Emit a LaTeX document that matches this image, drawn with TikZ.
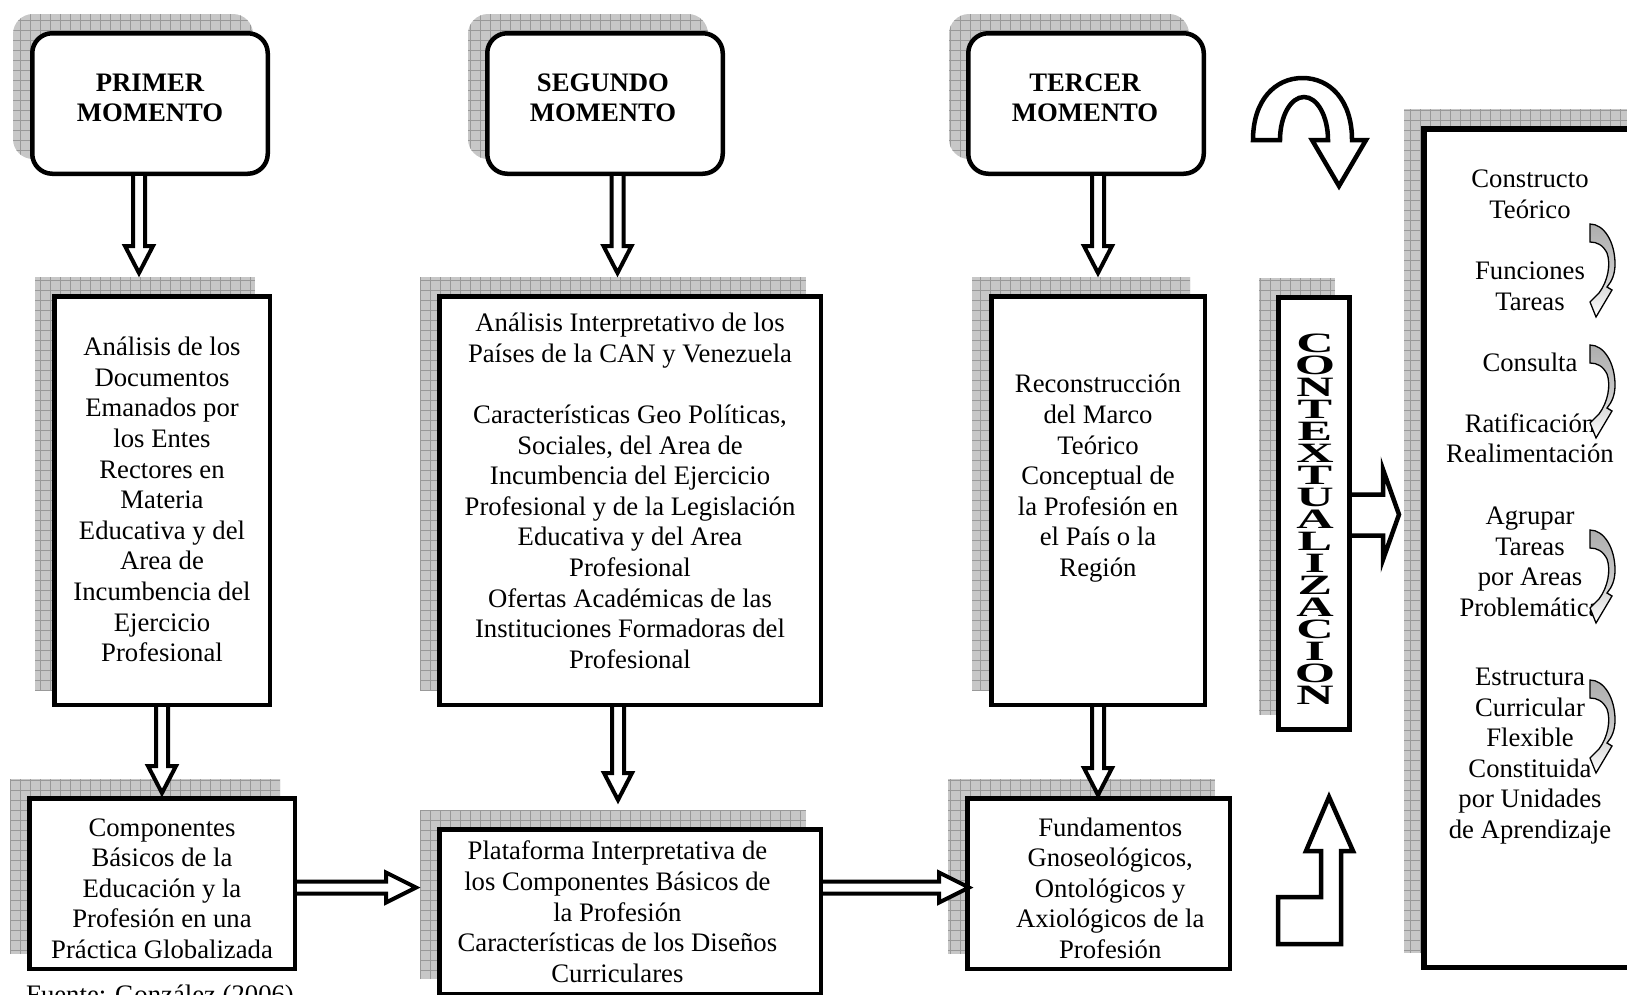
\documentclass[tikz,border=0pt]{standalone}
\usepackage{fontspec}
\usepackage{graphicx}
\setmainfont{Liberation Serif}
\usetikzlibrary{calc,backgrounds}
\newcommand\mainsz{\fontsize{26.7}{30.6}\selectfont}
\newcommand\wl[1]{\scalebox{1.85}[1]{#1}}
% vertical block arrow: #1 start (x and y), #2 tip (y only)
\newcommand\downblk[2]{%
  \draw[blk] let \p1=(#1), \p2=(#2) in
    (\x1-6pt,\y1) -- (\x1-6pt,\y2+27pt) -- (\x1-14pt,\y2+27pt) -- (\x1,\y2)
    -- (\x1+14pt,\y2+27pt) -- (\x1+6pt,\y2+27pt) -- (\x1+6pt,\y1);}
% horizontal block arrow: #1 start (x and y), #2 tip (x only)
\newcommand\rightblk[2]{%
  \draw[blk] let \p1=(#1), \p2=(#2) in
    (\x1,\y1+6pt) -- (\x2-30pt,\y1+6pt) -- (\x2-30pt,\y1+15pt) -- (\x2,\y1)
    -- (\x2-30pt,\y1-15pt) -- (\x2-30pt,\y1-6pt) -- (\x1,\y1-6pt);}
\begin{document}
\begin{tikzpicture}[x=1pt,y=-1pt,
  txt/.style={font=\mainsz, align=center, inner sep=0pt, anchor=north},
  hd/.style={txt, font=\mainsz\bfseries},
  rbox/.style={draw, line width=4.5pt, fill=white, rounded corners=20pt, inner sep=0pt},
  sbox/.style={draw, line width=4.5pt, fill=white, inner sep=0pt},
  shad/.style={fill=black!22, path picture={\draw[black!40, line width=0.6pt]
      (path picture bounding box.south west) grid[step=10pt] (path picture bounding box.north east);}},
  blk/.style={draw, line width=4pt, fill=white, line join=miter},
  bigblk/.style={draw, line width=4.5pt, fill=white, line join=miter},
  carrow/.style={draw, line width=1.3pt, top color=black!32, bottom color=white, middle color=black!22},
  ctxl/.style={font=\fontsize{28}{22}\selectfont\bfseries, inner sep=0pt, align=center},
  curv/.pic={\path[carrow] (0,0) .. controls (14,0) and (25,18) .. (25,40)
      .. controls (25,50) and (22,57) .. (17,63) -- (22,66) -- (6,93) -- (0,78) -- (9,69)
      .. controls (18,57) and (21,40) .. (17,29) .. controls (13,21) and (7,18) .. (0,18) -- cycle;}
]
\useasboundingbox (0,0) rectangle (1627,994);
\clip (0,0) rectangle (1627,994);

% ---- top rounded boxes
\node[rbox, minimum width=235.5pt, minimum height=140.5pt] (b1) at (150,103.5) {};
\node[rbox, minimum width=235.5pt, minimum height=140.5pt] (b2) at (605,103.5) {};
\node[rbox, minimum width=235.5pt, minimum height=140.5pt] (b3) at (1086,103.5) {};
\node[hd] (t1) at (150,69.4) {\strut PRIMER\\MOMENTO};
\node[hd] (t2) at (603,69.4) {\strut SEGUNDO\\MOMENTO};
\node[hd] (t3) at (1085,69.4) {\strut TERCER\\MOMENTO};

% ---- middle boxes
\node[sbox, minimum width=215.5pt, minimum height=408.5pt] (m1) at (162,500.5) {};
\node[sbox, minimum width=381.5pt, minimum height=408.5pt] (m2) at (630,500.5) {};
\node[sbox, minimum width=213.5pt, minimum height=408.5pt] (m3) at (1098,500.5) {};
\node[txt] (tm1) at (162,334) {\strut Análisis de los\\Documentos\\Emanados por\\los Entes\\Rectores en\\Materia\\Educativa y del\\Area de\\Incumbencia del\\Ejercicio\\Profesional};
\node[txt] (tm2) at (630,310.1) {\strut Análisis Interpretativo de los\\Países de la CAN y Venezuela\\\mbox{}\\Características Geo Políticas,\\Sociales, del Area de\\Incumbencia del Ejercicio\\Profesional y de la Legislación\\Educativa y del Area\\Profesional\\Ofertas Académicas de las\\Instituciones Formadoras del\\Profesional};
\node[txt] (tm3) at (1098,371.3) {\strut Reconstrucción\\del Marco\\Teórico\\Conceptual de\\la Profesión en\\el País o la\\Región};

% ---- bottom boxes
\node[sbox, minimum width=265.5pt, minimum height=170.5pt] (bo1) at (162,883.5) {};
\node[sbox, minimum width=381.5pt, minimum height=164.5pt] (bo2) at (630,911.5) {};
\node[sbox, minimum width=262.5pt, minimum height=170.5pt] (bo3) at (1098.5,883.5) {};
\node[txt] (tb1) at (162,814.4) {\strut Componentes\\Básicos de la\\Educación y la\\Profesión en una\\Práctica Globalizada};
\node[txt] (tb2) at (617.4,838.2) {\strut Plataforma Interpretativa de\\los Componentes Básicos de\\la Profesión\\Características de los Diseños\\Curriculares};
\node[txt] (tb3) at (1110.2,814.4) {\strut Fundamentos\\Gnoseológicos,\\Ontológicos y\\Axiológicos de la\\Profesión};

% ---- contextualizacion box
\node[draw, line width=5pt, fill=white, inner sep=0pt, minimum width=71pt, minimum height=432pt] (ctx) at (1314,513.5) {};
\node[ctxl] (ctxt) at (1315,519) {\wl{C}\\\wl{O}\\\wl{N}\\\wl{T}\\\wl{E}\\\wl{X}\\\wl{T}\\\wl{U}\\\wl{A}\\\wl{L}\\\wl{I}\\\wl{Z}\\\wl{A}\\\wl{C}\\\wl{I}\\\wl{O}\\\wl{N}};

% ---- big right box
\node[draw, line width=5.5pt, fill=white, inner sep=0pt, minimum width=273.5pt, minimum height=838.5pt] (big) at (1560.5,548) {};
\node[txt] (g1) at (1530,165.9) {\strut Constructo\\Teórico};
\node[txt] (g2) at (1530,258.2) {\strut Funciones\\Tareas};
\node[txt] (g3) at (1530,349.5) {\strut Consulta};
\node[txt] (g4) at (1530,410.7) {\strut Ratificación\\Realimentación};
\node[txt] (g5) at (1530,503.1) {\strut Agrupar\\Tareas\\por Areas\\Problemática};
\node[txt] (g6) at (1530,663.9) {\strut Estructura\\Curricular\\Flexible\\Constituida\\por Unidades\\de Aprendizaje};
\pic (ca1) at (1590,224) {curv};
\pic (ca2) at (1590,345) {curv};
\pic (ca3) at (1590,530) {curv};
\pic (ca4) at (1590,680) {curv};

% ---- source
\node[font=\mainsz, inner sep=0pt, anchor=base west] (src) at (26,1003.7) {Fuente: González (2006)};

% ---- connectors
\downblk{[xshift=-11pt]b1.south}{[yshift=21pt]m1.north}
\downblk{[xshift=12.5pt]b2.south}{[yshift=21pt]m2.north}
\downblk{[xshift=12pt]b3.south}{[yshift=21pt]m3.north}
\downblk{m1.south}{[yshift=3pt]bo1.north}
\downblk{[xshift=-12pt]m2.south}{[yshift=27pt]bo2.north}
\downblk{m3.south}{[yshift=1pt]bo3.north}
\rightblk{[yshift=-4pt]bo1.east}{[xshift=-21pt]bo2.west}
\rightblk{[yshift=24pt]bo2.east}{[xshift=4pt]bo3.west}
\draw[bigblk] let \p1=(ctx.east), \p2=(big.west) in
  (\x1,\y1+19pt) -- (\x2-38pt,\y1+19pt) -- (\x2-38pt,\y1+44pt) -- (\x2-22pt,\y1-1pt)
  -- (\x2-38pt,\y1-46pt) -- (\x2-38pt,\y1-22pt) -- (\x1,\y1-22pt);

% ---- free arrows
\draw[bigblk] (1253,140) .. controls (1253,100) and (1275.2,78) .. (1302.5,78)
  .. controls (1329.8,78) and (1352,100) .. (1352,140) -- (1366,140) -- (1339,186)
  -- (1312,140) -- (1328,140) .. controls (1328,116.3) and (1317.3,97) .. (1304,97)
  .. controls (1290.7,97) and (1280,116.3) .. (1280,140) -- cycle;
\draw[bigblk] (1278,944) -- (1341,944) -- (1341,851) -- (1353,851) -- (1329,797)
  -- (1306,851) -- (1321,851) -- (1321,897) -- (1278,897) -- cycle;

% ---- shadows
\begin{scope}[on background layer]
\clip (0,0) rectangle (1627,994);
\foreach \n in {m1,m2,m3,bo1,bo2,bo3,ctx,big}
  \path[shad] ([shift={(-17pt,17pt)}]\n.north west) rectangle ([shift={(-17pt,17pt)}]\n.south east);
\foreach \n in {b1,b2,b3}
  \path[shad, rounded corners=20pt] ([shift={(-17pt,17pt)}]\n.north west) rectangle ([shift={(-17pt,17pt)}]\n.south east);
\end{scope}
\end{tikzpicture}
\end{document}
